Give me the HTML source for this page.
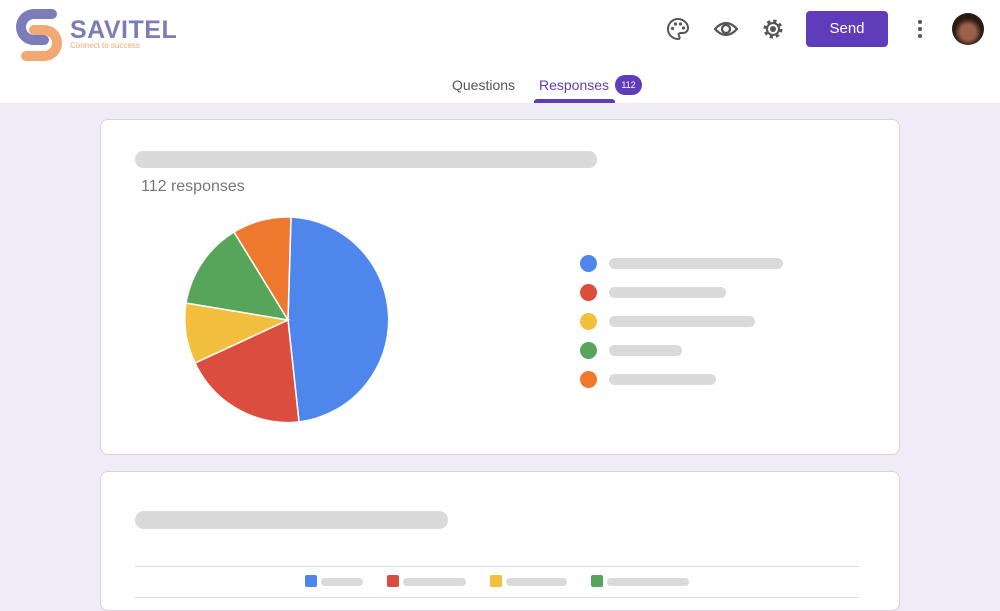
<!DOCTYPE html>
<html><head><style>
*{margin:0;padding:0;box-sizing:border-box}
body{width:1000px;height:600px;overflow:hidden;background:#efebf7;font-family:"Liberation Sans",sans-serif;position:relative}
.hdr{position:absolute;left:0;top:0;width:1000px;height:103px;background:#fff}
.abs{position:absolute}
.card{position:absolute;background:#fff;border:1px solid #d6d3dc;border-radius:8px}
.bar{position:absolute;background:#dadada;border-radius:8px}
.dot{position:absolute;width:17px;height:17px;border-radius:50%}
.sq{position:absolute;width:12px;height:12px;border-radius:2px;top:575px}
</style></head><body>
<div class="hdr">
<svg class="abs" style="left:12px;top:9px" width="54" height="52" viewBox="0 0 54 52">
<path d="M40 5 L22 5 A13 13 0 0 0 22 31 L32 31" fill="none" stroke="#7b7cb8" stroke-width="10" stroke-linecap="round"/>
<path d="M22 21 L32 21 A13 13 0 0 1 32 47 L14 47" fill="none" stroke="#f2a872" stroke-width="10" stroke-linecap="round"/>
</svg>
<div class="abs" style="left:70px;top:16px;font-size:25px;font-weight:bold;color:#7b7cb8;letter-spacing:0.5px">SAVITEL</div>
<div class="abs" style="left:70px;top:41px;font-size:8px;color:#f2a872">Connect to success</div>
<svg class="abs" style="left:666px;top:17px" width="24" height="24" viewBox="0 0 24 24"><path d="M12 2 A10 10 0 1 0 12 22 C14 22 14 20 13 19 C12 17 13 16 15 16 L17 16 A5 5 0 0 0 22 11 C22 6 17 2 12 2Z" fill="none" stroke="#555" stroke-width="2"/><circle cx="6.5" cy="11.5" r="1.6" fill="#555"/><circle cx="9.5" cy="7" r="1.6" fill="#555"/><circle cx="14.5" cy="7" r="1.6" fill="#555"/><circle cx="17.5" cy="11" r="1.6" fill="#555"/></svg>
<svg class="abs" style="left:714px;top:19px" width="24" height="20" viewBox="0 0 24 20"><path d="M1 10 Q12 -2 23 10 Q12 22 1 10Z" fill="none" stroke="#555" stroke-width="2.3"/><circle cx="12" cy="10" r="4" fill="none" stroke="#555" stroke-width="2.3"/></svg>
<svg class="abs" style="left:762px;top:18px" width="22" height="22" viewBox="0 0 22 22"><circle cx="11" cy="11" r="7.5" fill="none" stroke="#555" stroke-width="4" stroke-dasharray="3 2.9"/><circle cx="11" cy="11" r="6" fill="none" stroke="#555" stroke-width="2"/><circle cx="11" cy="11" r="3" fill="#555"/></svg>
<div class="abs" style="left:806px;top:11px;width:82px;height:36px;background:#5f3dba;border-radius:4px;color:#fff;font-size:15px;text-align:center;line-height:36px">Send</div>
<div class="abs" style="left:918px;top:20px;width:4px;height:4px;border-radius:50%;background:#555;box-shadow:0 7px 0 #555,0 14px 0 #555"></div>
<div class="abs" style="left:952px;top:13px;width:32px;height:32px;border-radius:50%;background:radial-gradient(circle at 50% 60%,#9a6048 0 30%,#2a1a14 55%)"></div>
<div class="abs" style="left:452px;top:77px;font-size:14px;color:#555">Questions</div>
<div class="abs" style="left:539px;top:77px;font-size:14px;color:#5f3dba">Responses</div>
<div class="abs" style="left:615px;top:75px;width:27px;height:20px;border-radius:10px;background:#5f3dba;color:#fff;font-size:9px;text-align:center;line-height:20px">112</div>
<div class="abs" style="left:534px;top:99px;width:81px;height:4px;background:#5f3dba;border-radius:3px 3px 0 0"></div>
</div>
<div class="card" style="left:100px;top:119px;width:800px;height:336px"></div>
<div class="bar" style="left:135px;top:151px;width:462px;height:17px"></div>
<div class="abs" style="left:141px;top:178px;font-size:16px;color:#777">112 responses</div>
<svg class="abs" style="left:0;top:0" width="1000" height="600">
<g stroke="#fff" stroke-width="1.5">
<path d="M288 320 L291 217 A103 103 0 0 1 299 422Z" fill="#4f86ec"/>
<path d="M288 320 L299 422 A103 103 0 0 1 195 363Z" fill="#db4d3d"/>
<path d="M288 320 L195 363 A103 103 0 0 1 186 303Z" fill="#f3bf3f"/>
<path d="M288 320 L186 303 A103 103 0 0 1 234 232Z" fill="#57a55a"/>
<path d="M288 320 L234 232 A103 103 0 0 1 291 217Z" fill="#ef782f"/>
</g></svg>
<div class="dot" style="left:580px;top:255px;background:#4f86ec"></div><div class="bar" style="left:609px;top:258px;width:174px;height:11px"></div>
<div class="dot" style="left:580px;top:284px;background:#db4d3d"></div><div class="bar" style="left:609px;top:287px;width:117px;height:11px"></div>
<div class="dot" style="left:580px;top:313px;background:#f3bf3f"></div><div class="bar" style="left:609px;top:316px;width:146px;height:11px"></div>
<div class="dot" style="left:580px;top:342px;background:#57a55a"></div><div class="bar" style="left:609px;top:345px;width:73px;height:11px"></div>
<div class="dot" style="left:580px;top:371px;background:#ef782f"></div><div class="bar" style="left:609px;top:374px;width:107px;height:11px"></div>
<div class="card" style="left:100px;top:471px;width:800px;height:140px"></div>
<div class="bar" style="left:135px;top:511px;width:313px;height:18px;border-radius:9px"></div>
<div class="abs" style="left:135px;top:566px;width:724px;height:1px;background:#ddd"></div>
<div class="abs" style="left:135px;top:597px;width:724px;height:1px;background:#ddd"></div>
<div class="sq" style="left:305px;background:#4f86ec"></div><div class="bar" style="left:321px;top:578px;width:42px;height:8px"></div>
<div class="sq" style="left:387px;background:#db4d3d"></div><div class="bar" style="left:403px;top:578px;width:63px;height:8px"></div>
<div class="sq" style="left:490px;background:#f3bf3f"></div><div class="bar" style="left:506px;top:578px;width:61px;height:8px"></div>
<div class="sq" style="left:591px;background:#57a55a"></div><div class="bar" style="left:607px;top:578px;width:82px;height:8px"></div>
</body></html>
